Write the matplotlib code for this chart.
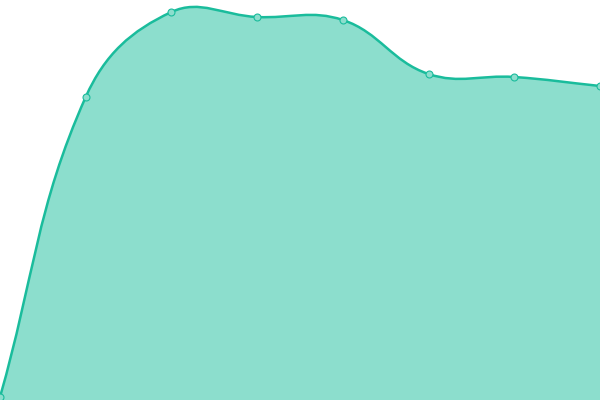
import numpy as np
import matplotlib.pyplot as plt
from matplotlib.path import Path
from matplotlib.patches import PathPatch

# Данные графика
labels = ["A", "B", "C", "D", "E", "F", "G", "H"]
values = [3, 303, 388, 383, 380, 326, 323, 314]

line_color = "#1abc9c"
fill_color = "#8cdecd"
tension = 0.4


# Контрольные точки кривой Безье (как в Chart.js)
def control_points(xs, ys, t):
    n = len(xs)
    cps = []
    for i in range(n):
        px, py = (xs[i - 1], ys[i - 1]) if i > 0 else (xs[i], ys[i])
        cx, cy = xs[i], ys[i]
        nx, ny = (xs[i + 1], ys[i + 1]) if i < n - 1 else (xs[i], ys[i])
        d01 = np.hypot(cx - px, cy - py)
        d12 = np.hypot(nx - cx, ny - cy)
        tot = d01 + d12
        s01 = d01 / tot if tot else 0
        s12 = d12 / tot if tot else 0
        fa = t * s01
        fb = t * s12
        cp1 = (cx - fa * (nx - px), cy - fa * (ny - py))
        cp2 = (cx + fb * (nx - px), cy + fb * (ny - py))
        cps.append((cp1, cp2))
    return cps


fig = plt.figure(figsize=(6, 4), dpi=100)
ax = fig.add_axes([0, 0, 1, 1])
ax.set_xlim(0, 600)
ax.set_ylim(0, 400)
ax.axis("off")

xs = np.linspace(0, 600, len(labels))
ys = np.array(values, dtype=float)
cps = control_points(xs, ys, tension)

verts = [(xs[0], ys[0])]
codes = [Path.MOVETO]
for i in range(len(xs) - 1):
    verts += [cps[i][1], cps[i + 1][0], (xs[i + 1], ys[i + 1])]
    codes += [Path.CURVE4] * 3

line_path = Path(verts, codes)
fill_path = Path(verts + [(xs[-1], 0), (xs[0], 0), (xs[0], ys[0])],
                 codes + [Path.LINETO, Path.LINETO, Path.CLOSEPOLY])

ax.add_patch(PathPatch(fill_path, facecolor=fill_color, edgecolor="none"))
ax.add_patch(PathPatch(line_path, facecolor="none", edgecolor=line_color, linewidth=1.8))
ax.plot(xs, ys, "o", markersize=5, markerfacecolor=fill_color,
        markeredgecolor=line_color, markeredgewidth=0.8)

plt.savefig("out.png", dpi=100)
plt.close()
